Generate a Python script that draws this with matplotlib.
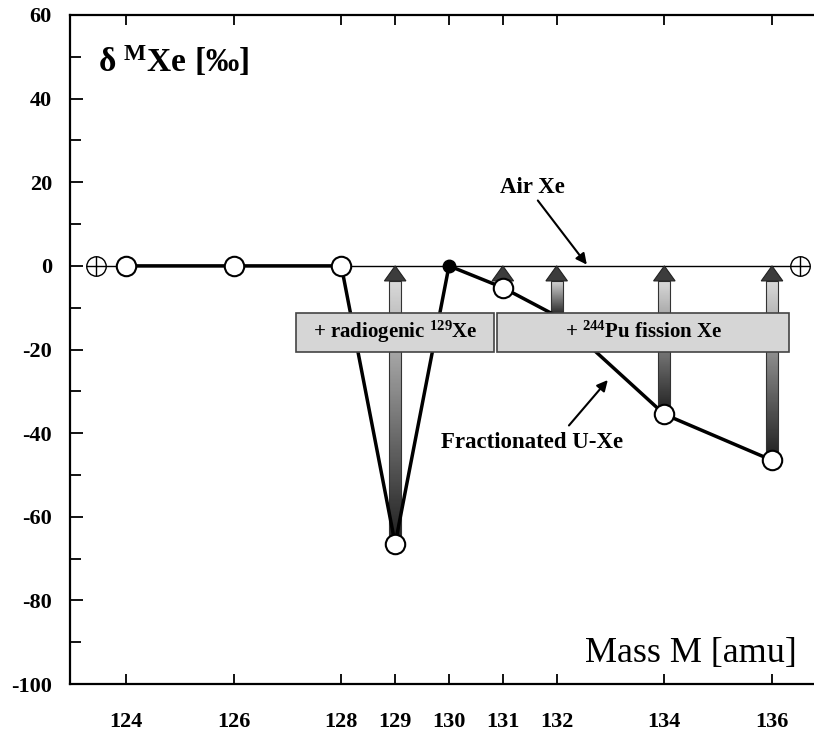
import numpy as np
import matplotlib
matplotlib.use('Agg')
import matplotlib.pyplot as plt
from matplotlib.patches import Polygon, Rectangle

plt.rcParams['font.family'] = ['Liberation Serif', 'DejaVu Serif']
plt.rcParams['font.weight'] = 'bold'
plt.rcParams['mathtext.fontset'] = 'custom'
plt.rcParams['mathtext.rm'] = 'Liberation Serif:bold'
plt.rcParams['mathtext.bf'] = 'Liberation Serif:bold'
plt.rcParams['mathtext.it'] = 'Liberation Serif:italic:bold'

# fractionated U-Xe (delta values in permil relative to air)
mass = [124, 126, 128, 129, 130, 131, 132, 134, 136]
delta = [0, 0, 0, -66.5, 0, -5.2, -12.0, -35.5, -46.5]

# open circles shown / filled dot at 130
open_mass = [124, 126, 128, 129, 131, 134, 136]
open_delta = [0, 0, 0, -66.5, -5.2, -35.5, -46.5]
filled_mass = [130]
filled_delta = [0]

# air Xe reference line end markers
air_mass = [123.45, 136.52]
air_delta = [0, 0]

# arrows: radiogenic / fission additions
arrow_mass = [129, 131, 132, 134, 136]
arrow_from = [-66.5, -5.2, -12.0, -35.5, -46.5]

# label boxes (mass range, delta range, text)
box1_x = [127.15, 130.84]
box2_x = [130.9, 136.32]
box_y = [-20.6, -11.2]
box1_text = r'+ radiogenic $^{\mathbf{129}}$Xe'
box2_text = r'+ $^{\mathbf{244}}$Pu fission Xe'

xticks = [124, 126, 128, 129, 130, 131, 132, 134, 136]
yticks = [-100, -80, -60, -40, -20, 0, 20, 40, 60]

fig = plt.figure(figsize=(8.14, 7.34), dpi=100)
ax = fig.add_axes([70/814, 50/734, 744/814, 669/734])

# air line
ax.plot(air_mass, air_delta, color='black', linewidth=1.0, zorder=1)
ax.plot(air_mass, air_delta, linestyle='none', marker='o', markersize=14,
        markerfacecolor='white', markeredgecolor='black', markeredgewidth=1.0, zorder=5)
ax.plot(air_mass, air_delta, linestyle='none', marker='+', markersize=14,
        color='black', markeredgewidth=1.0, zorder=6)

# gradient arrows
shaft_w = 0.22
head_w = 0.40
head_len = 3.6
grad = np.linspace(0.12, 0.85, 100).reshape(-1, 1)
for m, v in zip(arrow_mass, arrow_from):
    top = -head_len
    if v < top:
        ax.imshow(grad, cmap='gray', vmin=0, vmax=1, origin='lower', aspect='auto',
                  extent=(m - shaft_w/2, m + shaft_w/2, v, top), zorder=2)
        ax.add_patch(Rectangle((m - shaft_w/2, v), shaft_w, top - v, fill=False,
                               edgecolor='#333333', linewidth=0.8, zorder=2.1))
    ax.add_patch(Polygon([(m - head_w/2, top), (m + head_w/2, top), (m, 0)],
                         closed=True, facecolor='#3c3c3c', edgecolor='#222222',
                         linewidth=0.8, zorder=2.2))

# fractionated U-Xe line
ax.plot(mass, delta, color='black', linewidth=2.5, zorder=3)
ax.plot(open_mass, open_delta, linestyle='none', marker='o', markersize=14,
        markerfacecolor='white', markeredgecolor='black', markeredgewidth=1.5, zorder=5)
ax.plot(filled_mass, filled_delta, linestyle='none', marker='o', markersize=9,
        color='black', zorder=5)

# boxes
for bx, txt in [(box1_x, box1_text), (box2_x, box2_text)]:
    ax.add_patch(Rectangle((bx[0], box_y[0]), bx[1] - bx[0], box_y[1] - box_y[0],
                           facecolor='#d6d6d6', edgecolor='#444444', linewidth=1.2, zorder=4))
    ax.text((bx[0] + bx[1]) / 2, (box_y[0] + box_y[1]) / 2, txt, ha='center', va='center',
            fontsize=15, fontweight='bold', zorder=4.5)

# annotations
ax.annotate('Air Xe', xy=(132.56, 0.3), xytext=(131.55, 17.5), ha='center', va='baseline',
            fontsize=16.5, fontweight='bold',
            arrowprops=dict(arrowstyle='-|>', color='black', lw=1.5, mutation_scale=16,
                            shrinkA=0, shrinkB=0, relpos=(0.55, 0)))
ax.annotate('Fractionated U-Xe', xy=(132.95, -27.3), xytext=(129.86, -43.5), ha='left',
            va='baseline', fontsize=16.5, fontweight='bold',
            arrowprops=dict(arrowstyle='-|>', color='black', lw=1.5, mutation_scale=16,
                            shrinkA=0, shrinkB=0, relpos=(0.7, 1.3)))

ax.text(0.038, 0.915, r'δ $^{\mathbf{M}}$Xe [‰]', transform=ax.transAxes, ha='left',
        va='baseline', fontsize=24, fontweight='bold')
ax.text(0.977, 0.033, 'Mass M [amu]', transform=ax.transAxes, ha='right', va='baseline',
        fontsize=26, fontweight='normal')

# axes
ax.set_xlim(122.96, 136.78)
ax.set_ylim(-100, 60)
ax.set_xticks(xticks)
ax.set_yticks(yticks)
ax.set_yticks(np.arange(-90, 60, 20), minor=True)
ax.set_xticklabels([str(t) for t in xticks])
ax.set_yticklabels([str(t) for t in yticks])
ax.tick_params(axis='x', direction='in', top=True, length=7, width=1.3, pad=20, labelsize=16)
ax.tick_params(axis='y', which='major', direction='in', length=9, width=1.3, pad=13, labelsize=16)
ax.tick_params(axis='y', which='minor', direction='in', length=8, width=1.3)
for lab in ax.get_xticklabels() + ax.get_yticklabels():
    lab.set_fontweight('bold')
ax.spines['right'].set_visible(False)
for s in ['left', 'top', 'bottom']:
    ax.spines[s].set_linewidth(1.6)

fig.savefig('out.png', dpi=100)
